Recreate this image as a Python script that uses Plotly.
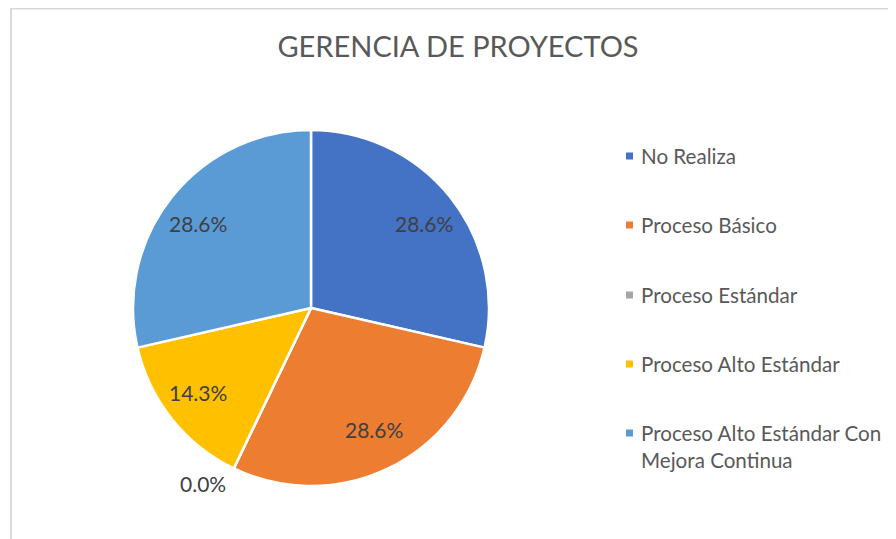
import plotly.graph_objects as go
import math

categories = ["No Realiza", "Proceso Básico", "Proceso Estándar", "Proceso Alto Estándar",
              "Proceso Alto Estándar Con Mejora Continua"]
legend_labels = ["No Realiza", "Proceso Básico", "Proceso Estándar", "Proceso Alto Estándar",
                 "Proceso Alto Estándar Con<br>Mejora Continua"]
values = [2, 2, 0, 1, 2]
colors = ["#4472C4", "#ED7D31", "#A5A5A5", "#FFC000", "#5B9BD5"]
title = "GERENCIA DE PROYECTOS"

W, H = 896, 539
OFF = 8  # page body margin
cx, cy, r = 311 - OFF, 308 - OFF, 178
FONT = "Lato, sans-serif"
TXT = "#404040"

fig = go.Figure()
fig.add_trace(go.Pie(
    labels=categories, values=values, sort=False, direction="clockwise", rotation=0,
    marker=dict(colors=colors, line=dict(color="white", width=2.5)),
    textinfo="none", showlegend=False, hoverinfo="label+percent",
    domain=dict(x=[(cx - r) / W, (cx + r) / W], y=[1 - (cy + r) / H, 1 - (cy - r) / H]),
))

total = sum(values)
annotations = []
cum = 0
for v in values:
    frac = v / total
    pct = f"{frac*100:.1f}%"
    mid = (cum + frac / 2) * 2 * math.pi
    if v > 0:
        x = cx + math.sin(mid) * 0.81 * r
        y = cy - math.cos(mid) * 0.76 * r
    else:
        d = 1.13 * r
        x = cx + math.sin(mid) * d - 21
        y = cy - math.cos(mid) * d - 6
    annotations.append(dict(x=x / W, y=1 - y / H, xref="paper", yref="paper", text=pct,
                            showarrow=False, font=dict(family=FONT, size=21, color=TXT),
                            xanchor="center", yanchor="middle"))
    cum += frac

# legend
leg_y = [156, 225, 295, 364, 433]
shapes = []
for lab, col, ly in zip(legend_labels, colors, leg_y):
    ly -= OFF
    shapes.append(dict(type="rect", xref="paper", yref="paper",
                       x0=(626 - OFF) / W, x1=(633 - OFF) / W,
                       y0=1 - (ly + 3.5) / H, y1=1 - (ly - 3.5) / H,
                       fillcolor=col, line=dict(width=0)))
    annotations.append(dict(x=(639 - OFF) / W, y=1 - (ly - 14) / H, xref="paper", yref="paper",
                            text=lab, showarrow=False, align="left", xanchor="left", yanchor="top",
                            font=dict(family=FONT, size=20.6, color="#595959")))

# chart border
shapes.append(dict(type="rect", xref="paper", yref="paper", x0=(11 - OFF) / W, x1=1.2, y0=-0.2,
                   y1=1 - 0.5 / H, line=dict(color="#D9D9D9", width=2),
                   fillcolor="rgba(0,0,0,0)", layer="below"))

fig.update_layout(
    width=W, height=H, margin=dict(l=0, r=0, t=0, b=0),
    paper_bgcolor="white", plot_bgcolor="white",
    title=dict(text=title, x=(458 - OFF) / W, xanchor="center", y=1 - (47 - OFF) / H,
               yanchor="middle", font=dict(family=FONT, size=29, color="#595959")),
    annotations=annotations, shapes=shapes,
)
fig.write_html("out.html")
